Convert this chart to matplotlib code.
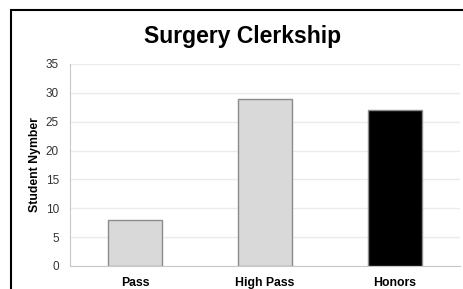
import numpy as np
import matplotlib
matplotlib.use("Agg")
from matplotlib import pyplot as plt
from matplotlib.patches import Rectangle

plt.rcParams['font.family'] = ['Liberation Sans', 'DejaVu Sans']

categories = ["Pass", "High Pass", "Honors"]
counts = [8, 29, 27]
colors = ["#d9d9d9", "#d9d9d9", "#000000"]
yticks = [0, 5, 10, 15, 20, 25, 30, 35]

fig = plt.figure(figsize=(4.64, 2.89), dpi=100)
ax = fig.add_axes([70/464, 23/289, 390/464, 202/289])

x = np.arange(len(categories))
ax.bar(x, counts, width=0.41, color=colors, edgecolor="#8c8c8c", linewidth=1.0, zorder=3)
ax.set_xlim(-0.5, 2.5)
ax.set_ylim(0, 35)
ax.set_yticks(yticks)
ax.set_xticks(x)
ax.set_xticklabels(categories, fontweight="bold", fontsize=8.8)
ax.tick_params(axis="y", labelsize=8.5, colors="#333333", length=0, pad=8)
ax.tick_params(axis="x", length=0, pad=8)
ax.grid(axis="y", color="#ebebeb", linewidth=1.0, zorder=0)
for s in ["top", "right"]:
    ax.spines[s].set_visible(False)
for s in ["left", "bottom"]:
    ax.spines[s].set_color("#c8c8c8")
ax.set_ylabel("Student Nymber", fontweight="bold", fontsize=8.8, labelpad=3)

fig.text(243/464, 1 - 36/289, "Surgery Clerkship", ha="center", va="center",
         fontsize=16.5, fontweight="bold")

# outer frame (cropped at right and bottom)
fig.patches.append(Rectangle((11/464, -0.05), 1.1, 1 - 10/289 + 0.05,
                             transform=fig.transFigure, fill=False,
                             edgecolor="black", linewidth=1.5))

fig.savefig("out.png", dpi=100)
